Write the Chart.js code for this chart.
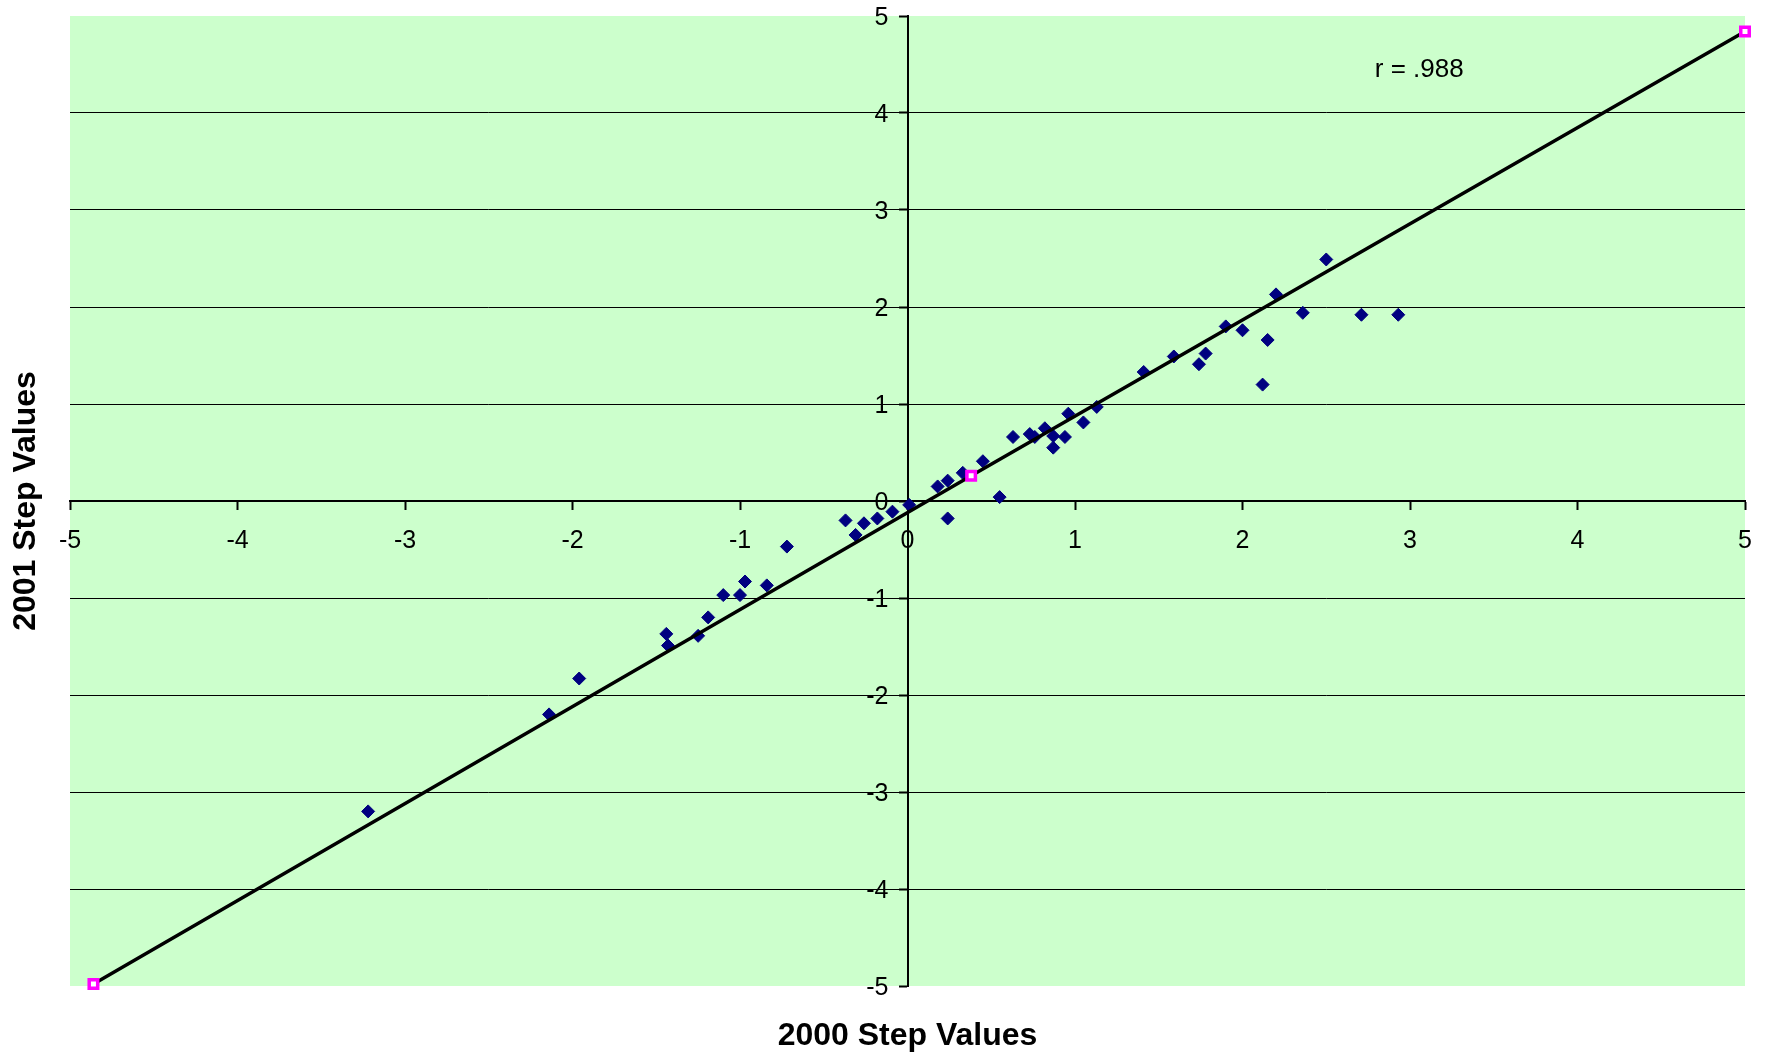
<!DOCTYPE html>
<html>
<head>
<meta charset="utf-8">
<title>2000 vs 2001 Step Values</title>
<script src="https://cdn.jsdelivr.net/npm/chart.js@4.4.1/dist/chart.umd.min.js"></script>
<style>
    html, body { margin: 0; padding: 0; background: #ffffff; }
    #stepChart { display: block; }
</style>
</head>
<body>
<canvas id="stepChart" width="1775" height="1057"></canvas>
<script>
// Step values for each unit
const steps2000 = [
    -3.22, -2.14, -1.96, -1.44, -1.43, -1.25, -1.19, -1.10, -1.00, -0.97,
    -0.84, -0.72, -0.37, -0.31, -0.26, -0.18, -0.09, 0.01, 0.18, 0.24,
    0.24, 0.33, 0.45, 0.55, 0.63, 0.73, 0.76, 0.82, 0.87, 0.87,
    0.94, 0.96, 1.05, 1.13, 1.41, 1.59, 1.74, 1.78, 1.90, 2.00,
    2.12, 2.15, 2.20, 2.36, 2.50, 2.71, 2.93
];
const steps2001 = [
    -3.20, -2.20, -1.83, -1.37, -1.49, -1.39, -1.20, -0.97, -0.97, -0.83,
    -0.87, -0.47, -0.20, -0.35, -0.23, -0.18, -0.11, -0.04, 0.15, -0.18,
    0.21, 0.29, 0.41, 0.04, 0.66, 0.69, 0.66, 0.75, 0.67, 0.55,
    0.66, 0.90, 0.81, 0.97, 1.33, 1.49, 1.41, 1.52, 1.80, 1.76,
    1.20, 1.66, 2.13, 1.94, 2.49, 1.92, 1.92
];

// Fitted line (three marked points)
const fitX = [-4.86, 0.38, 5.0];
const fitY = [-4.98, 0.26, 4.84];

const axisTicks = [-5, -4, -3, -2, -1, 0, 1, 2, 3, 4, 5];
const correlationText = "r = .988";
const xTitle = "2000 Step Values";
const yTitle = "2001 Step Values";

const FONT = "'Liberation Sans', Arial, sans-serif";

document.addEventListener("DOMContentLoaded", function () {
    renderChart();
});

function toPoints(xs, ys) {
    return xs.map((x, i) => ({ x: x, y: ys[i] }));
}

// Green plot area like the Excel original
const plotBackground = {
    id: "plotBackground",
    beforeDraw(chart) {
        const { ctx, chartArea } = chart;
        ctx.save();
        ctx.fillStyle = "#CCFFCC";
        ctx.fillRect(chartArea.left, chartArea.top, chartArea.right - chartArea.left, chartArea.bottom - chartArea.top);
        ctx.restore();
    }
};

// y tick labels sit left of the centred axis, titles and r annotation
const chartTexts = {
    id: "chartTexts",
    afterDraw(chart) {
        const { ctx, chartArea, scales } = chart;
        const cx = (chartArea.left + chartArea.right) / 2;
        const cy = (chartArea.top + chartArea.bottom) / 2;
        const xZero = scales.x.getPixelForValue(0);

        ctx.save();
        ctx.fillStyle = "#000000";
        ctx.font = "25px " + FONT;
        ctx.textAlign = "right";
        ctx.textBaseline = "middle";
        scales.y.ticks.forEach(t => {
            ctx.fillText(String(t.value), xZero - 19, scales.y.getPixelForValue(t.value) + 2);
        });

        ctx.textAlign = "left";
        ctx.font = "26px " + FONT;
        ctx.fillText(correlationText, scales.x.getPixelForValue(2.79), scales.y.getPixelForValue(4.44));

        ctx.textAlign = "center";
        ctx.font = "bold 32px " + FONT;
        ctx.fillText(xTitle, cx, chartArea.bottom + 50);

        ctx.translate(26, cy);
        ctx.rotate(-Math.PI / 2);
        ctx.fillText(yTitle, 0, 0);
        ctx.restore();
    }
};

function renderChart() {
    const ctx = document.getElementById("stepChart").getContext("2d");

    new Chart(ctx, {
        type: "scatter",
        data: {
            datasets: [
                {
                    label: "Fit",
                    data: toPoints(fitX, fitY),
                    showLine: true,
                    borderColor: "#000000",
                    borderWidth: 3.5,
                    pointStyle: "rect",
                    pointRadius: 6,
                    pointBorderColor: "#FF00FF",
                    pointBackgroundColor: "#FFFFFF",
                    pointBorderWidth: 3.5,
                    clip: false
                },
                {
                    label: "Steps",
                    data: toPoints(steps2000, steps2001),
                    pointStyle: "rectRot",
                    pointRadius: 6.5,
                    pointBackgroundColor: "#000080",
                    pointBorderColor: "#000080",
                    pointBorderWidth: 1
                }
            ]
        },
        plugins: [plotBackground, chartTexts],
        options: {
            responsive: false,
            animation: false,
            devicePixelRatio: 1,
            layout: {
                padding: { left: 70, top: 16, right: 30, bottom: 71 }
            },
            plugins: {
                legend: { display: false },
                tooltip: { enabled: false }
            },
            scales: {
                x: {
                    type: "linear",
                    min: -5,
                    max: 5,
                    position: { y: 0 },
                    afterFit: scale => { scale.height = 0; },
                    afterBuildTicks: scale => { scale.ticks = axisTicks.map(v => ({ value: v })); },
                    grid: {
                        drawOnChartArea: false,
                        drawTicks: true,
                        tickLength: 8,
                        tickColor: "#000000",
                        tickWidth: 2
                    },
                    border: { display: true, color: "#000000", width: 2 },
                    ticks: {
                        color: "#000000",
                        font: { family: FONT, size: 25 },
                        padding: 17,
                        maxRotation: 0
                    }
                },
                y: {
                    type: "linear",
                    min: -5,
                    max: 5,
                    position: { x: 0 },
                    afterFit: scale => { scale.width = 0; },
                    afterBuildTicks: scale => { scale.ticks = axisTicks.map(v => ({ value: v })); },
                    grid: {
                        color: c => (c.tick && Math.abs(c.tick.value) === 5) ? "rgba(0,0,0,0)" : "#000000",
                        lineWidth: 1,
                        drawTicks: true,
                        tickLength: 8,
                        tickColor: "#000000",
                        tickWidth: 2
                    },
                    border: { display: true, color: "#000000", width: 2 },
                    ticks: { display: false }
                }
            }
        }
    });
}
</script>
</body>
</html>
